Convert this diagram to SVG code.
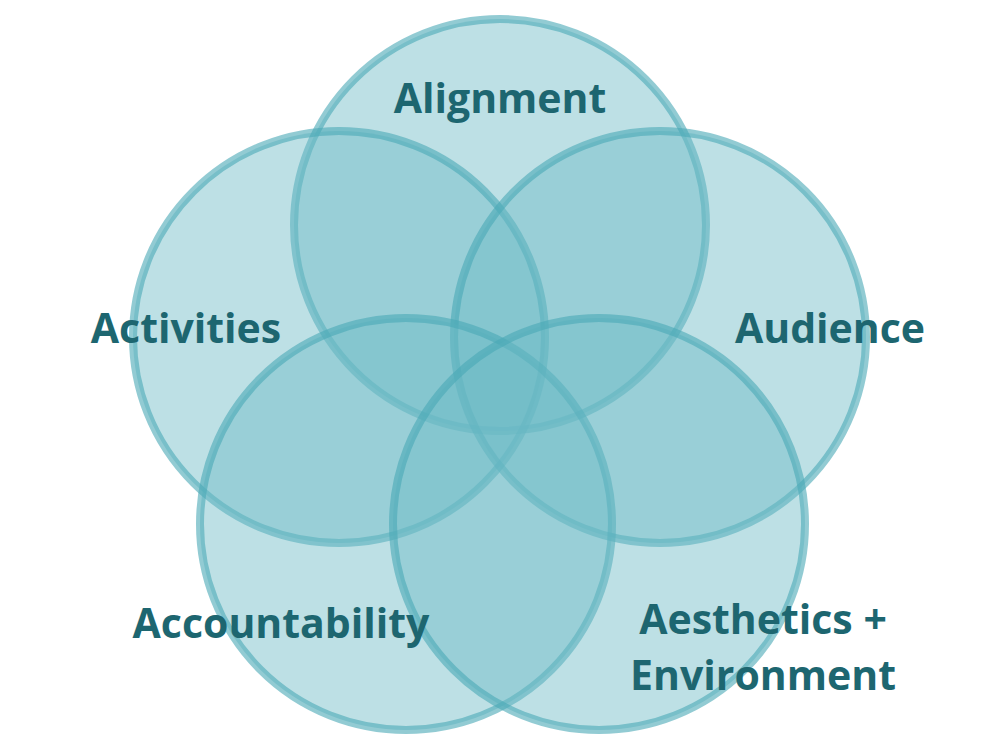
<svg xmlns="http://www.w3.org/2000/svg" width="1000" height="750" viewBox="0 0 1000 750">
<style>
.c{fill:#6cbac5;fill-opacity:0.45;stroke:#4aa9b5;stroke-opacity:0.6;stroke-width:8}
.t{font-family:"Open Sans","Noto Sans","Liberation Sans",sans-serif;font-weight:700;font-size:41px;fill:#1d6670;text-anchor:middle}
</style>
<rect width="1000" height="750" fill="#ffffff"/>
<g id="alignment"><circle class="c" cx="500" cy="225" r="206"/></g>
<g id="activities"><circle class="c" cx="339" cy="337" r="206"/></g>
<g id="audience"><circle class="c" cx="660" cy="337" r="206"/></g>
<g id="accountability"><circle class="c" cx="406" cy="524" r="206"/></g>
<g id="aesthetics"><circle class="c" cx="599" cy="524" r="206"/></g>
<g id="labels">
<text class="t" x="500" y="113">Alignment</text>
<text class="t" x="186" y="343">Activities</text>
<text class="t" x="830" y="343">Audience</text>
<text class="t" x="281" y="638">Accountability</text>
<text class="t" x="763" y="634">Aesthetics +</text>
<text class="t" x="763" y="690">Environment</text>
</g>
</svg>
